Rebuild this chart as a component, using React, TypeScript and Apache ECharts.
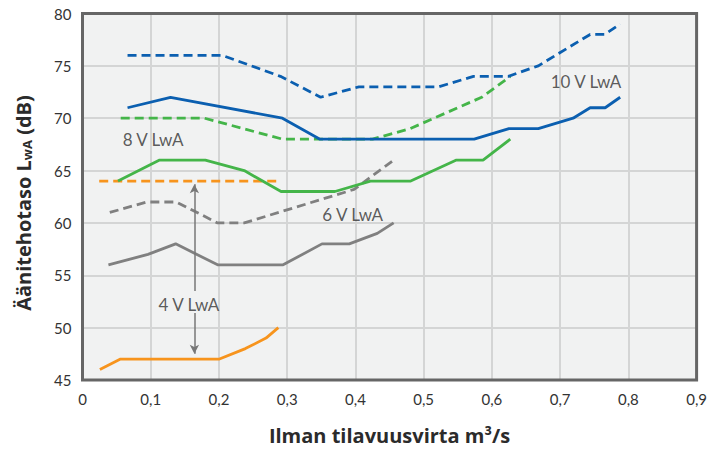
import React, { useEffect, useRef } from "react";
import * as echarts from "echarts";

// Air flow (m³/s) and sound power level (dB) per curve
const flow10Max = [0.066, 0.205, 0.29, 0.349, 0.405, 0.522, 0.573, 0.624, 0.668, 0.744, 0.765, 0.788];
const lwa10Max = [76, 76, 74, 72, 73, 73, 74, 74, 75, 78, 78, 79];

const flow10 = [0.066, 0.129, 0.293, 0.348, 0.574, 0.625, 0.668, 0.719, 0.744, 0.766, 0.788];
const lwa10 = [71, 72, 70, 68, 68, 69, 69, 70, 71, 71, 72];

const flow8Max = [0.056, 0.179, 0.293, 0.425, 0.48, 0.585, 0.627];
const lwa8Max = [70, 70, 68, 68, 69, 72, 74];

const flow8 = [0.052, 0.113, 0.18, 0.237, 0.291, 0.37, 0.422, 0.481, 0.548, 0.587, 0.627];
const lwa8 = [64, 66, 66, 65, 63, 63, 64, 64, 66, 66, 68];

const flow6Max = [0.04, 0.094, 0.1375, 0.198, 0.237, 0.398, 0.456];
const lwa6Max = [61, 62, 62, 60, 60, 63.2, 66];

const flow6 = [0.038, 0.096, 0.1365, 0.198, 0.294, 0.351, 0.391, 0.432, 0.456];
const lwa6 = [56, 57, 58, 56, 56, 58, 58, 59, 60];

const flow4Max = [0.0245, 0.288];
const lwa4Max = [64, 64];

const flow4 = [0.0255, 0.0557, 0.2007, 0.2387, 0.269, 0.287];
const lwa4 = [46, 47, 47, 48, 49, 50];

const labelTexts = ["8 V LwA", "10 V LwA", "6 V LwA", "4 V LwA"];
const labelX = [0.1034, 0.738, 0.396, 0.156];
const labelY = [68.0, 73.5, 60.8, 52.2];

// 4 V range arrow
const arrowX = 0.164;
const arrowTop = 63.7;
const arrowGapTop = 53.5;
const arrowGapBottom = 51.4;
const arrowBottom = 47.5;

const X_MIN = 0;
const X_MAX = 0.9;
const Y_MIN = 45;
const Y_MAX = 80;

const BLUE = "#0b5fb0";
const GREEN = "#44b549";
const GREY = "#808080";
const ORANGE = "#f7941d";
const FONT = "Lato";
const TITLE_FONT = "Open Sans";
const TITLE_COLOR = "#2b2b2b";

const zip = (xs: number[], ys: number[]) => xs.map((x, i) => [x, ys[i]]);

function lineSeries(xs: number[], ys: number[], color: string, dashed: boolean) {
  return {
    type: "line",
    data: zip(xs, ys),
    showSymbol: false,
    symbol: "none",
    lineStyle: { color, width: 2.8, type: dashed ? [9, 5] : "solid" },
    silent: true,
    z: 3,
  };
}

export default function App() {
  const ref = useRef<HTMLDivElement>(null);
  useEffect(() => {
    if (!ref.current) return;
    document.body.style.margin = "0";
    const chart = echarts.init(ref.current, undefined, { renderer: "svg" });
    chart.setOption({
      animation: false,
      backgroundColor: "#ffffff",
      grid: {
        left: 82.5,
        right: 11,
        top: 13.5,
        bottom: 70,
      },
      graphic: [
        {
          type: "text",
          x: 21,
          y: 203,
          rotation: Math.PI / 2,
          silent: true,
          style: {
            text: "{t|Äänitehotaso L}{s|wA}{t| (dB)}",
            align: "center",
            verticalAlign: "middle",
            fill: TITLE_COLOR,
            rich: {
              t: { fontFamily: TITLE_FONT, fontSize: 20, fontWeight: "bold", fill: TITLE_COLOR, lineHeight: 24, verticalAlign: "bottom" },
              s: { fontFamily: TITLE_FONT, fontSize: 13, fontWeight: "bold", fill: TITLE_COLOR, lineHeight: 14, verticalAlign: "bottom" },
            },
          },
        },
      ],
      xAxis: {
        type: "value",
        z: 0,
        min: X_MIN,
        max: X_MAX,
        interval: 0.1,
        name: "Ilman tilavuusvirta m³/s",
        nameLocation: "middle",
        nameGap: 45,
        nameTextStyle: { fontFamily: TITLE_FONT, fontSize: 20, fontWeight: "bold", color: TITLE_COLOR },
        axisLine: { show: false },
        axisTick: { show: false },
        axisLabel: {
          margin: 11,
          fontFamily: FONT,
          fontSize: 15,
          color: "#333",
          formatter: (v: number) => (v === 0 ? "0" : v.toFixed(1).replace(".", ",")),
        },
        splitLine: { show: true, showMinLine: false, showMaxLine: false, lineStyle: { color: "#d4d5d5", width: 2 } },
        splitArea: { show: true, areaStyle: { color: ["#f1f2f2"] } },
      },
      yAxis: {
        type: "value",
        z: 1,
        min: Y_MIN,
        max: Y_MAX,
        interval: 5,
        axisLine: { show: false },
        axisTick: { show: false },
        axisLabel: { margin: 11, fontFamily: FONT, fontSize: 15, color: "#333" },
        splitLine: { show: true, showMinLine: false, showMaxLine: false, lineStyle: { color: "#d4d5d5", width: 2 } },
      },
      series: [
        {
          type: "line",
          data: [],
          silent: true,
          z: 5,
          markArea: {
            silent: true,
            itemStyle: { color: "none", borderColor: "#666666", borderWidth: 3 },
            data: [[{ coord: [X_MIN, Y_MIN] }, { coord: [X_MAX, Y_MAX] }]],
          },
        },
        lineSeries(flow4Max, lwa4Max, ORANGE, true),
        lineSeries(flow4, lwa4, ORANGE, false),
        lineSeries(flow6Max, lwa6Max, GREY, true),
        lineSeries(flow6, lwa6, GREY, false),
        lineSeries(flow8Max, lwa8Max, GREEN, true),
        lineSeries(flow8, lwa8, GREEN, false),
        lineSeries(flow10, lwa10, BLUE, false),
        lineSeries(flow10Max, lwa10Max, BLUE, true),
        {
          type: "line",
          data: [],
          silent: true,
          z: 3,
          markLine: {
            silent: true,
            symbol: ["none", "arrow"],
            symbolSize: [7, 9],
            label: { show: false },
            lineStyle: { color: "#777", width: 1.5, type: "solid" },
            data: [
              [{ coord: [arrowX, arrowGapTop] }, { coord: [arrowX, arrowTop] }],
              [{ coord: [arrowX, arrowGapBottom] }, { coord: [arrowX, arrowBottom] }],
            ],
          },
        },
        {
          type: "scatter",
          symbolSize: 0,
          silent: true,
          z: 4,
          data: labelTexts.map((t, i) => ({ name: t, value: [labelX[i], labelY[i]] })),
          label: {
            show: true,
            position: "inside",
            formatter: (p: any) => p.name,
            fontFamily: FONT,
            fontSize: 17,
            color: "#333",
          },
        },
      ],
    });
    return () => chart.dispose();
  }, []);
  return <div ref={ref} style={{ width: 710, height: 450 }} />;
}
